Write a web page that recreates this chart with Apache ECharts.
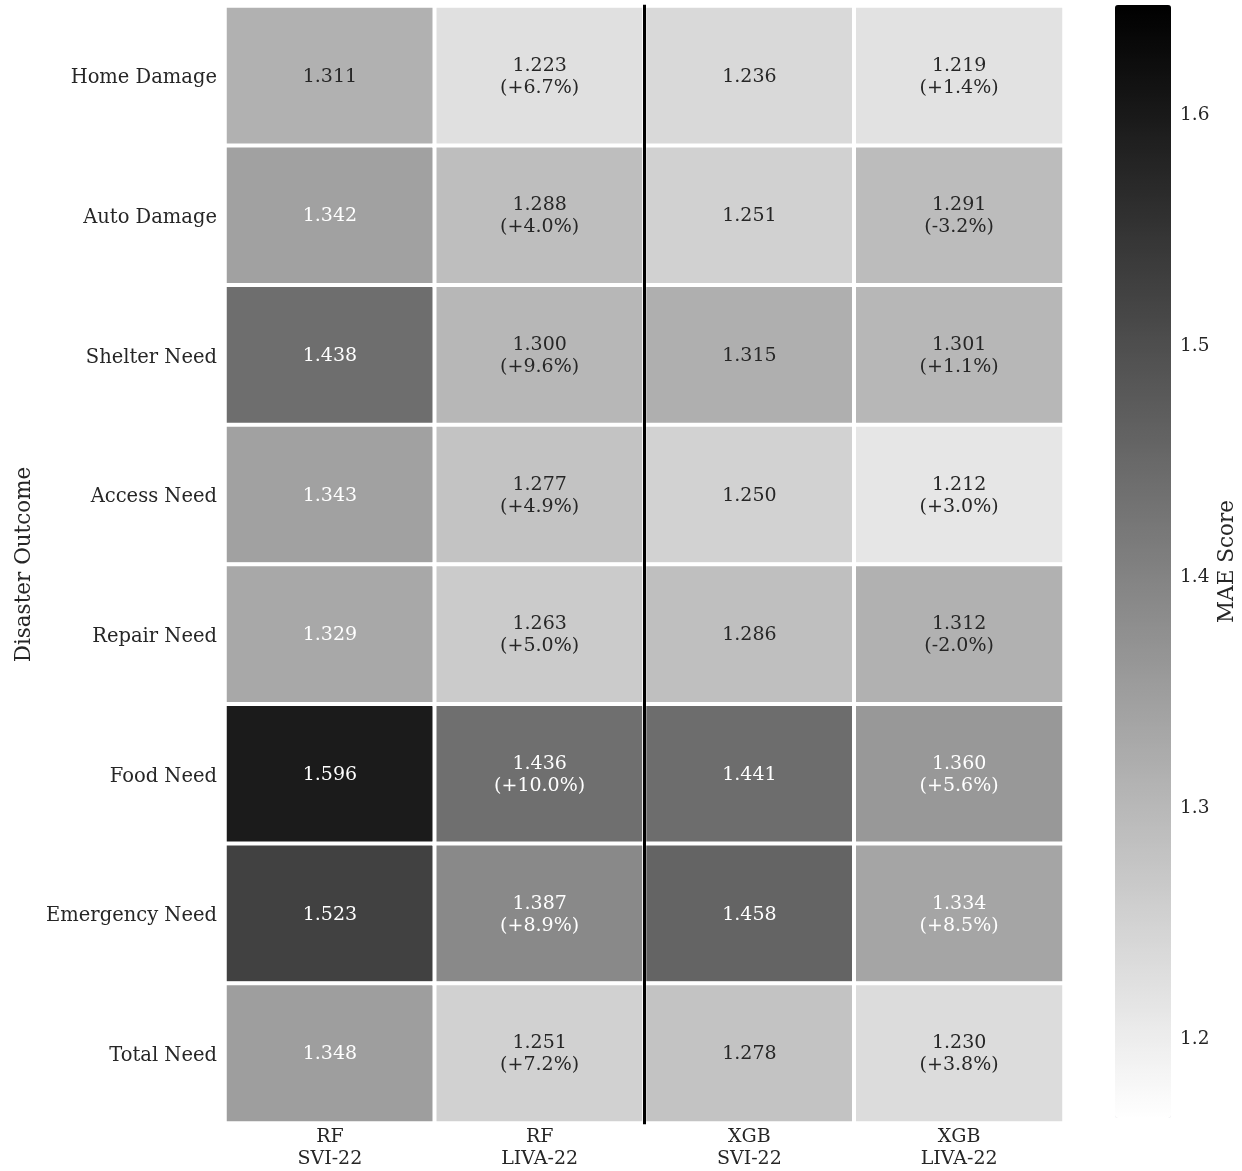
<!DOCTYPE html>
<html>
<head>
<meta charset="utf-8">
<script src="https://cdn.jsdelivr.net/npm/echarts@6/dist/echarts.min.js"></script>
<style>
  html, body { margin: 0; padding: 0; background: #ffffff; }
  #chart { width: 1242px; height: 1171px; }
</style>
</head>
<body>
<div id="chart"></div>
<script>
// Disaster outcomes (rows, top to bottom)
const outcomes = [
  'Home Damage', 'Auto Damage', 'Shelter Need', 'Access Need',
  'Repair Need', 'Food Need', 'Emergency Need', 'Total Need'
];

// Model / feature-set columns
const modelLabels = ['RF\nSVI-22', 'RF\nLIVA-22', 'XGB\nSVI-22', 'XGB\nLIVA-22'];

// MAE per outcome for each model
const rfSvi   = [1.311, 1.342, 1.438, 1.343, 1.329, 1.596, 1.523, 1.348];
const rfLiva  = [1.223, 1.288, 1.300, 1.277, 1.263, 1.436, 1.387, 1.251];
const xgbSvi  = [1.236, 1.251, 1.315, 1.250, 1.286, 1.441, 1.458, 1.278];
const xgbLiva = [1.219, 1.291, 1.301, 1.212, 1.312, 1.360, 1.334, 1.230];

// Percent improvement of LIVA-22 over SVI-22 (same model)
const rfLivaChange  = [6.7, 4.0, 9.6, 4.9, 5.0, 10.0, 8.9, 7.2];
const xgbLivaChange = [1.4, -3.2, 1.1, 3.0, -2.0, 5.6, 8.5, 3.8];

// Colour scale range and colorbar ticks
const scaleMin = 1.1645;
const scaleMax = 1.6463;
const colorbarTicks = [1.2, 1.3, 1.4, 1.5, 1.6];

// Columns per model group (separator drawn after the RF group)
const groupSize = 2;

const columns = [
  { mae: rfSvi,   change: null },
  { mae: rfLiva,  change: rfLivaChange },
  { mae: xgbSvi,  change: null },
  { mae: xgbLiva, change: xgbLivaChange }
];

const TEXT_DARK = '#262626';
const FONT = "'DejaVu Serif', 'Liberation Serif', serif";

// Pick white or dark annotation text from the cell's grey level
function annotColor(v) {
  let t = (v - scaleMin) / (scaleMax - scaleMin);
  t = Math.max(0, Math.min(1, t));
  const g = 1 - t;
  const lin = g <= 0.03928 ? g / 12.92 : Math.pow((g + 0.055) / 1.055, 2.4);
  return lin > 0.408 ? TEXT_DARK : '#ffffff';
}

function fmtChange(c) {
  return '(' + (c >= 0 ? '+' : '') + c.toFixed(1) + '%)';
}

const cells = [];
columns.forEach((col, ci) => {
  col.mae.forEach((v, ri) => {
    const text = col.change ? v.toFixed(3) + '\n' + fmtChange(col.change[ri]) : v.toFixed(3);
    cells.push({
      value: [ci, ri, v],
      text: text,
      label: { color: annotColor(v) }
    });
  });
});

const chart = echarts.init(document.getElementById('chart'), null, { renderer: 'canvas' });

chart.setOption({
  backgroundColor: '#ffffff',
  animation: false,
  textStyle: { fontFamily: FONT },
  grid: [
    { left: 225, right: 178, top: 6, bottom: 48 },
    { left: 1115, width: 56, top: 5, height: 1113 }
  ],
  xAxis: [
    {
      type: 'category', gridIndex: 0, data: modelLabels, position: 'bottom',
      axisLine: { show: false }, axisTick: { show: false }, splitLine: { show: false },
      axisLabel: { color: TEXT_DARK, fontSize: 19, fontFamily: FONT, lineHeight: 22, margin: 3 }
    },
    { type: 'value', gridIndex: 0, min: 0, max: modelLabels.length, show: false },
    { type: 'value', gridIndex: 1, min: 0, max: 1, show: false }
  ],
  yAxis: [
    {
      type: 'category', gridIndex: 0, data: outcomes, inverse: true,
      axisLine: { show: false }, axisTick: { show: false }, splitLine: { show: false },
      axisLabel: {
        color: TEXT_DARK, fontSize: 19.5, fontFamily: FONT, margin: 8,
        formatter: v => '{t|' + v + '}',
        rich: { t: { fontSize: 19.5, fontFamily: FONT, color: TEXT_DARK, padding: [5, 0, 0, 0] } }
      },
      name: 'Disaster Outcome', nameLocation: 'middle', nameGap: 190, nameRotate: 90,
      nameTextStyle: { color: TEXT_DARK, fontSize: 21.5, fontFamily: FONT }
    },
    { type: 'value', gridIndex: 0, min: 0, max: outcomes.length, inverse: true, show: false },
    {
      type: 'value', gridIndex: 1, min: scaleMin, max: scaleMax, position: 'right',
      axisLine: { show: false }, axisTick: { show: false }, splitLine: { show: false },
      axisLabel: {
        color: TEXT_DARK, fontSize: 18.5, fontFamily: FONT, margin: 9,
        customValues: colorbarTicks,
        formatter: v => '{t|' + v.toFixed(1) + '}',
        rich: { t: { fontSize: 18.5, fontFamily: FONT, color: TEXT_DARK, padding: [6, 0, 0, 0] } }
      },
      name: 'MAE Score', nameLocation: 'middle', nameGap: 45, nameRotate: 90,
      nameTextStyle: { color: TEXT_DARK, fontSize: 21.5, fontFamily: FONT }
    }
  ],
  visualMap: {
    type: 'continuous',
    min: scaleMin, max: scaleMax,
    seriesIndex: 0,
    dimension: 2,
    orient: 'vertical',
    left: 1115, top: 5,
    itemWidth: 56, itemHeight: 1113,
    padding: 0,
    calculable: false,
    hoverLink: false,
    text: null,
    showLabel: false,
    inRange: { color: ['#ffffff', '#000000'] }
  },
  series: [
    {
      type: 'heatmap',
      xAxisIndex: 0, yAxisIndex: 0,
      data: cells,
      silent: true,
      itemStyle: { borderColor: '#ffffff', borderWidth: 4 },
      label: {
        show: true,
        fontSize: 19,
        fontFamily: FONT,
        lineHeight: 22,
        offset: [0, 1],
        formatter: p => p.data.text
      },
      emphasis: { disabled: true }
    },
    {
      type: 'line',
      xAxisIndex: 1, yAxisIndex: 1,
      data: [[groupSize, -0.01], [groupSize, outcomes.length + 0.01]],
      symbol: 'none',
      silent: true,
      z: 10,
      lineStyle: { color: '#000000', width: 3 }
    }
  ]
});
</script>
</body>
</html>
